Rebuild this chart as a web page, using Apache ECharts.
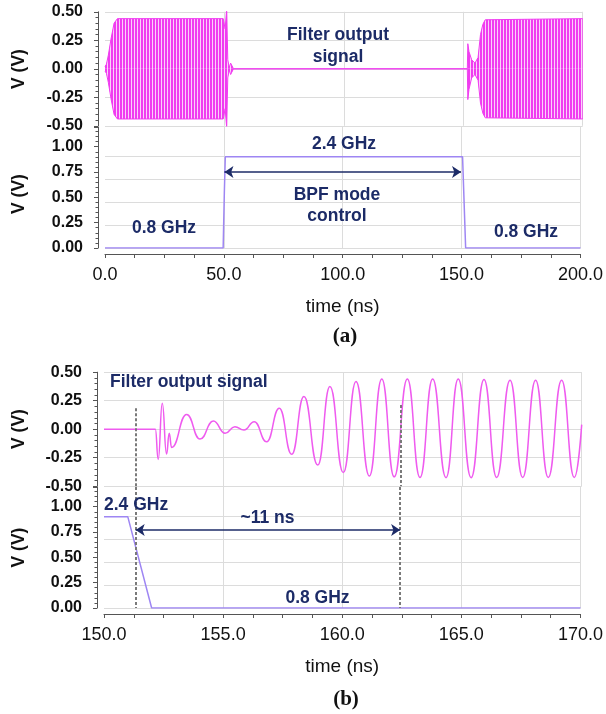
<!DOCTYPE html>
<html>
<head>
<meta charset="utf-8">
<title>BPF mode switching transient</title>
<script src="https://cdn.jsdelivr.net/npm/echarts@6/dist/echarts.min.js"></script>
<style>
  html, body { margin: 0; padding: 0; background: #ffffff; }
  #chart { width: 606px; height: 714px; }
</style>
</head>
<body>
<div id="chart"></div>
<script>
// ---------------- data ----------------
// (a) filter output: envelope of the 0.8 GHz burst, time in ns, volts
const aEnvT  = [0, 0.6, 1.4, 2.5, 3.8, 5.2, 49.5, 50.3, 50.95, 51.4, 52.0, 52.6, 53.2, 53.8,
                151.7, 151.9, 152.4, 153.5, 154.9, 156.2, 157.2, 158.2, 159.2, 160.0, 200];
const aEnvUp = [0.02, 0.04, 0.12, 0.26, 0.40, 0.44, 0.44, 0.35, 0.53, 0.08, 0.01, 0.05, 0.04, 0,
                0, 0.22, 0.15, 0.08, 0.05, 0.10, 0.30, 0.39, 0.43, 0.44, 0.44];
const aEnvLo = [-0.02, -0.04, -0.12, -0.26, -0.40, -0.44, -0.44, -0.35, -0.52, -0.08, -0.01, -0.05, -0.04, 0,
                0, -0.27, -0.18, -0.08, -0.05, -0.10, -0.30, -0.39, -0.43, -0.44, -0.44];

// (a) BPF mode control voltage
const aCtrlT = [0, 49.7, 50.2, 50.6, 150.4, 151.7, 200];
const aCtrlV = [0, 0, 0.55, 0.9, 0.9, 0, 0];

// (b) filter output after switching back to 0.8 GHz: successive extrema
const bOutT = [150.0, 152.15, 152.27, 152.44, 152.62, 152.73, 152.83, 153.46, 154.02, 154.58,
               155.07, 155.48, 155.86, 156.29, 156.81, 157.34, 157.86, 158.37, 158.95, 159.46,
               160.02, 160.55, 161.11, 161.63, 162.15, 162.70, 163.23, 163.76, 164.32, 164.83,
               165.37, 165.91, 166.44, 167.00, 167.53, 168.07, 168.60, 169.16, 169.69, 170.0];
const bOutV = [0, 0, -0.265, 0.228, -0.218, -0.036, -0.16, 0.13, -0.087, 0.072,
               -0.036, 0.022, -0.007, 0.066, -0.11, 0.184, -0.22, 0.286, -0.315, 0.374,
               -0.38, 0.418, -0.41, 0.44, -0.418, 0.44, -0.423, 0.44, -0.425, 0.44,
               -0.425, 0.435, -0.423, 0.43, -0.423, 0.43, -0.423, 0.43, -0.423, 0.04];

// (b) control voltage
const bCtrlT = [150, 151.0, 152.0, 170];
const bCtrlV = [0.9, 0.9, 0, 0];

// tick labels
const aTimeTicks = [0, 50, 100, 150, 200];
const bTimeTicks = [150, 155, 160, 165, 170];
const outTicks   = [-0.5, -0.25, 0, 0.25, 0.5];
const ctrlTicks  = [0, 0.25, 0.5, 0.75, 1.0];

// annotation spans (ns) and levels (V)
const bpfSpan     = [50.24, 149.76];
const bpfLevel    = [0.75];
const settleSpan  = [151.33, 162.43];
const settleLevel = [0.77];
const settleDashTop = [0.184, 0.213];

// ---------------- style ----------------
const FONT  = '"Liberation Sans", Arial, Helvetica, sans-serif';
const SERIF = '"Liberation Serif", "Times New Roman", serif';
const MAG   = '#f03cf0';
const MAG_B = '#ef5bef';
const LAV   = '#9e86f3';
const NAVY  = '#1c2b67';
const GRID  = '#dcdcdc';
const AX    = '#555555';
const INK   = '#111111';
const CLEAR = 'rgba(0,0,0,0)';

const CTRL_H = 121;                 // height of the control panels
const CTRL_MAX = CTRL_H / 101.3;    // volts at the top of a control panel
const CTRL_GRID_STEP = 23;          // spacing of the control-panel grid rules

function zip(t, v) { return t.map((x, i) => [x, v[i]]); }

// dense 0.8 GHz carrier rendered as fine vertical striping
function stripePattern() {
  const c = document.createElement('canvas');
  c.width = 3; c.height = 2;
  const g = c.getContext('2d');
  g.fillStyle = '#fbd0fb'; g.fillRect(0, 0, 3, 2);
  g.fillStyle = MAG;       g.fillRect(0, 0, 2, 2);
  return c;
}
const stripes = stripePattern();

function timeAxis(grid, ticks, bottom) {
  return {
    type: 'value', gridIndex: grid,
    min: ticks[0], max: ticks[ticks.length - 1], interval: ticks[1] - ticks[0],
    offset: bottom ? 6 : 0,
    axisLine: { show: bottom, onZero: false, lineStyle: { color: AX } },
    axisTick: { show: bottom, length: 4, lineStyle: { color: AX } },
    minorTick: { show: bottom, splitNumber: 4, length: 4, lineStyle: { color: AX } },
    axisLabel: { show: bottom, margin: 12, fontSize: 18, color: INK, fontFamily: FONT,
                 formatter: v => v.toFixed(1) },
    splitLine: { show: true, showMinLine: false, lineStyle: { color: GRID, width: 1 } },
    name: bottom ? 'time (ns)' : '', nameLocation: 'middle', nameGap: 43,
    nameTextStyle: { fontSize: 19, color: INK, fontFamily: FONT }
  };
}

function voltAxis(grid, ticks, max, split) {
  return {
    type: 'value', gridIndex: grid,
    min: ticks[0], max: max, interval: ticks[1] - ticks[0], offset: 7,
    axisLine: { show: true, onZero: false, lineStyle: { color: AX } },
    axisTick: { show: true, length: 4, lineStyle: { color: AX } },
    minorTick: { show: true, splitNumber: 5, length: 2.5, lineStyle: { color: AX } },
    axisLabel: { margin: 15, fontSize: 16, fontWeight: 'bold', color: INK, fontFamily: FONT,
                 formatter: v => ticks.some(t => Math.abs(t - v) < 1e-9) ? v.toFixed(2) : '' },
    splitLine: { show: split, lineStyle: { color: GRID, width: 1 } }
  };
}

// unlabelled axis that only carries the horizontal rules of a control panel
function ruleAxis(grid) {
  return {
    type: 'value', gridIndex: grid, min: 0, max: CTRL_H / CTRL_GRID_STEP, interval: 1,
    axisLine: { show: false }, axisTick: { show: false }, axisLabel: { show: false },
    splitLine: { show: true, showMaxLine: false,
                 lineStyle: { color: [GRID, GRID, GRID, GRID, GRID, CLEAR, CLEAR], width: 1 } }
  };
}

function note(text, x, y, align) {
  return {
    type: 'text', x: x, y: y, z: 100, silent: true,
    style: {
      text: text, fill: NAVY, font: 'bold 17.5px ' + FONT,
      align: align || 'center', verticalAlign: 'middle',
      textAlign: align || 'center', textVerticalAlign: 'middle', lineHeight: 21.5
    }
  };
}

function yName(x, y) {
  return {
    type: 'text', x: x, y: y, z: 100, rotation: Math.PI / 2, silent: true,
    style: { text: 'V (V)', fill: INK, font: 'bold 17.5px ' + FONT,
             align: 'center', verticalAlign: 'middle',
             textAlign: 'center', textVerticalAlign: 'middle' }
  };
}

function panelTag(text, x, y) {
  return {
    type: 'text', x: x, y: y, z: 100, silent: true,
    style: { text: text, fill: INK, font: 'bold 21px ' + SERIF,
             align: 'center', verticalAlign: 'middle',
             textAlign: 'center', textVerticalAlign: 'middle' }
  };
}

const dashStyle = { color: '#7a7a7a', width: 2, type: [3, 2] };
const arrowStyle = { color: NAVY, width: 1.5, type: 'solid' };

function dashPair(t, top, bottom) {
  return [
    { coord: [t, top], symbol: 'none', lineStyle: dashStyle },
    { coord: [t, bottom], symbol: 'none' }
  ];
}

const option = {
  animation: false,
  backgroundColor: '#ffffff',
  grid: [
    { left: 105, right: 23.3, top: 11.8,  height: 114 },
    { left: 105, right: 23.3, top: 127,   height: CTRL_H },
    { left: 104, right: 24.3, top: 372.2, height: 114 },
    { left: 104, right: 24.3, top: 487,   height: CTRL_H }
  ],
  xAxis: [
    timeAxis(0, aTimeTicks, false),
    timeAxis(1, aTimeTicks, true),
    timeAxis(2, bTimeTicks, false),
    timeAxis(3, bTimeTicks, true)
  ],
  yAxis: [
    voltAxis(0, outTicks, outTicks[outTicks.length - 1], true),
    voltAxis(1, ctrlTicks, CTRL_MAX, false),
    voltAxis(2, outTicks, outTicks[outTicks.length - 1], true),
    voltAxis(3, ctrlTicks, CTRL_MAX, false),
    ruleAxis(1),
    ruleAxis(3)
  ],
  series: [
    {
      name: 'output (a) upper', type: 'line', xAxisIndex: 0, yAxisIndex: 0,
      data: zip(aEnvT, aEnvUp), showSymbol: false, silent: true,
      lineStyle: { color: MAG, width: 1 },
      areaStyle: { color: { image: stripes, repeat: 'repeat' }, opacity: 1 }
    },
    {
      name: 'output (a) lower', type: 'line', xAxisIndex: 0, yAxisIndex: 0,
      data: zip(aEnvT, aEnvLo), showSymbol: false, silent: true,
      lineStyle: { color: MAG, width: 1 },
      areaStyle: { color: { image: stripes, repeat: 'repeat' }, opacity: 1 }
    },
    {
      name: 'control (a)', type: 'line', xAxisIndex: 1, yAxisIndex: 1,
      data: zip(aCtrlT, aCtrlV), showSymbol: false, silent: true,
      lineStyle: { color: LAV, width: 1.5 },
      markLine: {
        silent: true, symbol: ['arrow', 'arrow'], symbolSize: 9,
        label: { show: false }, lineStyle: arrowStyle,
        data: [[{ coord: [bpfSpan[0], bpfLevel[0]] }, { coord: [bpfSpan[1], bpfLevel[0]] }]]
      }
    },
    {
      name: 'output (b)', type: 'line', xAxisIndex: 2, yAxisIndex: 2,
      data: zip(bOutT, bOutV), showSymbol: false, silent: true,
      smooth: 0.5, smoothMonotone: 'x',
      lineStyle: { color: MAG_B, width: 1.5 },
      markLine: {
        silent: true, symbol: 'none', label: { show: false }, lineStyle: dashStyle,
        data: [
          dashPair(settleSpan[0], settleDashTop[0], outTicks[0]),
          dashPair(settleSpan[1], settleDashTop[1], outTicks[0])
        ]
      }
    },
    {
      name: 'control (b)', type: 'line', xAxisIndex: 3, yAxisIndex: 3,
      data: zip(bCtrlT, bCtrlV), showSymbol: false, silent: true,
      lineStyle: { color: LAV, width: 1.5 },
      markLine: {
        silent: true, symbol: ['arrow', 'arrow'], symbolSize: 9,
        label: { show: false }, lineStyle: arrowStyle,
        data: [
          dashPair(settleSpan[0], CTRL_MAX, 0),
          dashPair(settleSpan[1], CTRL_MAX, 0),
          [{ coord: [settleSpan[0], settleLevel[0]] }, { coord: [settleSpan[1], settleLevel[0]] }]
        ]
      }
    }
  ],
  graphic: [
    note('Filter output\nsignal', 338, 46),
    note('2.4 GHz', 344, 144),
    note('BPF mode\ncontrol', 337, 205.5),
    note('0.8 GHz', 164, 228),
    note('0.8 GHz', 526, 231.7),
    note('Filter output signal', 110, 381.7, 'left'),
    note('2.4 GHz', 104, 505, 'left'),
    note('~11 ns', 267.5, 518.3),
    note('0.8 GHz', 317.5, 598.3),
    yName(18.7, 69),
    yName(19, 194),
    yName(18.7, 429),
    yName(19, 547.5),
    panelTag('(a)', 345, 337),
    panelTag('(b)', 346, 700)
  ]
};

const chart = echarts.init(document.getElementById('chart'), null, { renderer: 'canvas' });
chart.setOption(option);
</script>
</body>
</html>
